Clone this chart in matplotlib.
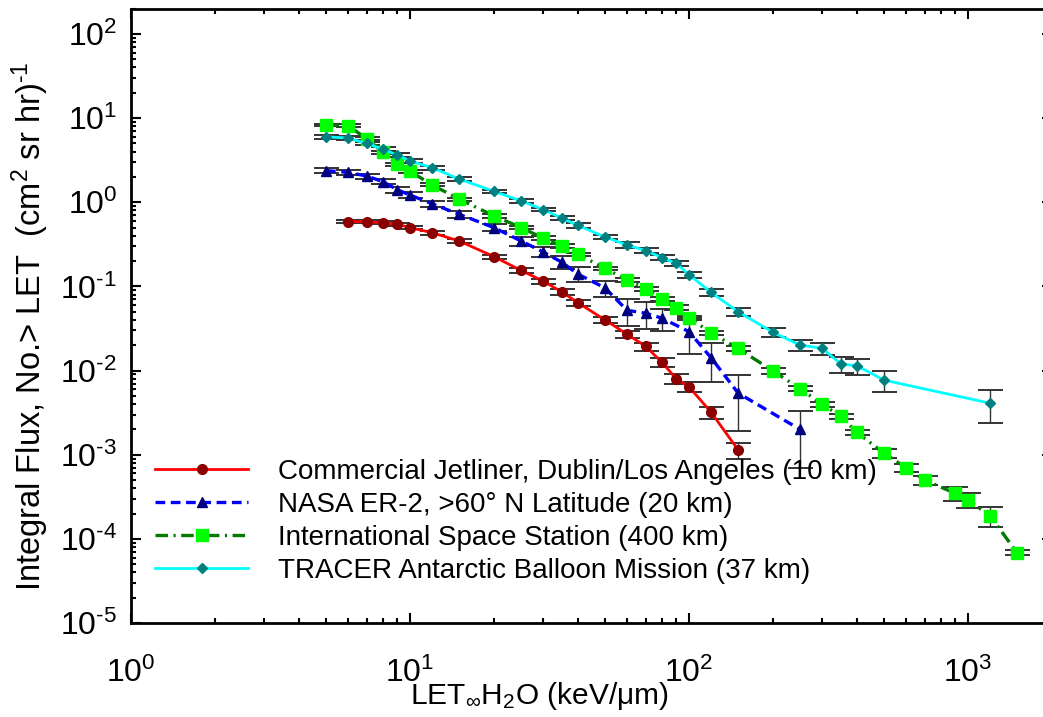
import numpy as np
import matplotlib
matplotlib.use("Agg")
import matplotlib.pyplot as plt
from matplotlib.ticker import LogLocator, NullFormatter, FuncFormatter

plt.rcParams['font.family'] = ['Liberation Sans', 'DejaVu Sans']
plt.rcParams['mathtext.fontset'] = 'custom'
plt.rcParams['mathtext.rm'] = 'Liberation Sans'
plt.rcParams['mathtext.it'] = 'Liberation Sans:italic'
plt.rcParams['mathtext.bf'] = 'Liberation Sans:bold'
plt.rcParams['lines.scale_dashes'] = False

# LET (keV/um) and integral flux
x_jet = [6, 7, 8, 9, 10, 12, 15, 20, 25, 30, 35, 40, 50, 60, 70, 80, 90, 100, 120, 150]
y_jet = [0.59, 0.59, 0.57, 0.55, 0.50, 0.435, 0.347, 0.226, 0.155, 0.116, 0.086, 0.064,
         0.040, 0.027, 0.0194, 0.0125, 0.0080, 0.0064, 0.0032, 0.00114]
rel_jet = [0.04, 0.04, 0.04, 0.04, 0.05, 0.05, 0.05, 0.06, 0.07, 0.07, 0.08, 0.08,
           0.09, 0.10, 0.11, 0.12, 0.13, 0.14, 0.16, 0.22]

x_er2 = [5, 6, 7, 8, 9, 10, 12, 15, 20, 25, 30, 35, 40, 50, 60, 70, 80, 100, 120, 150, 250]
y_er2 = [2.38, 2.27, 2.05, 1.76, 1.41, 1.22, 0.96, 0.72, 0.50, 0.347, 0.257, 0.194, 0.140,
         0.096, 0.052, 0.048, 0.042, 0.029, 0.0142, 0.0054, 0.0020]
rel_er2 = [0.07, 0.07, 0.07, 0.07, 0.08, 0.08, 0.08, 0.09, 0.10, 0.12, 0.14, 0.17, 0.20,
           0.22, 0.35, 0.35, 0.30, 0.45, 0.48, 0.65, 0.65]

x_iss = [5, 6, 7, 8, 9, 10, 12, 15, 20, 25, 30, 35, 40, 50, 60, 70, 80, 90, 100, 120, 150,
         200, 250, 300, 350, 400, 500, 600, 700, 900, 1000, 1200, 1500]
y_iss = [8.3, 8.1, 5.7, 3.93, 2.83, 2.34, 1.61, 1.09, 0.69, 0.50, 0.376, 0.302, 0.241, 0.164,
         0.119, 0.094, 0.071, 0.056, 0.0425, 0.0281, 0.0183, 0.0099, 0.0061, 0.0040, 0.00285,
         0.00184, 0.00104, 0.00070, 0.00050, 0.000347, 0.000289, 0.000188, 0.0000682]
rel_iss = [0.04, 0.04, 0.04, 0.04, 0.04, 0.04, 0.04, 0.04, 0.05, 0.05, 0.05, 0.05, 0.05, 0.05,
           0.05, 0.06, 0.06, 0.06, 0.06, 0.06, 0.06, 0.07, 0.07, 0.07, 0.08, 0.08, 0.12, 0.12,
           0.13, 0.18, 0.20, 0.27, 0.07]

x_tracer = [5, 6, 7, 8, 9, 10, 12, 15, 20, 25, 30, 35, 40, 50, 60, 70, 80, 90, 100, 120, 150,
            200, 250, 300, 350, 400, 500, 1200]
y_tracer = [6.0, 5.8, 5.0, 4.27, 3.65, 3.10, 2.58, 1.89, 1.35, 1.04, 0.82, 0.65, 0.53, 0.387,
            0.311, 0.266, 0.220, 0.188, 0.138, 0.085, 0.050, 0.0285, 0.0201, 0.0184, 0.0120,
            0.0114, 0.0077, 0.0041]
rel_tracer = [0.05, 0.05, 0.05, 0.05, 0.05, 0.05, 0.05, 0.05, 0.05, 0.05, 0.05, 0.06, 0.06,
              0.06, 0.07, 0.07, 0.07, 0.08, 0.08, 0.09, 0.10, 0.13, 0.15, 0.17, 0.22, 0.22,
              0.28, 0.42]

labels = ['Commercial Jetliner, Dublin/Los Angeles (10 km)',
          'NASA ER-2, >60\u00b0 N Latitude (20 km)',
          'International Space Station (400 km)',
          'TRACER Antarctic Balloon Mission (37 km)']

fig = plt.figure(figsize=(10.43, 7.17), dpi=100)
ax = fig.add_axes([0.1256, 0.1311, 0.883, 0.8568])

series = [
    (x_jet, y_jet, rel_jet, dict(color='#ff0000', lw=2.0, ls='-', marker='o', ms=7,
                                 mfc='#8b0000', mec='#8b0000')),
    (x_er2, y_er2, rel_er2, dict(color='#0000ff', lw=2.4, dashes=[7, 4], marker='^', ms=7,
                                 mfc='#000080', mec='#000080')),
    (x_iss, y_iss, rel_iss, dict(color='#007a00', lw=2.4, dashes=[9, 4, 1.5, 4], marker='s', ms=8,
                                 mfc='#00ff00', mec='#00ff00')),
    (x_tracer, y_tracer, rel_tracer, dict(color='#00ffff', lw=2.0, ls='-', marker='D', ms=5,
                                          mfc='#008080', mec='#008080')),
]

for (xs, ys, rel, style), lab in zip(series, labels):
    xs = np.array(xs, dtype=float)
    ys = np.array(ys, dtype=float)
    err = np.array(rel) * ys
    ax.errorbar(xs, ys, yerr=err, fmt='none', ecolor='#333333', elinewidth=1,
                capsize=9, capthick=1.4, zorder=2)
    ax.plot(xs, ys, label=lab, zorder=3, **style)

ax.set_xscale('log')
ax.set_yscale('log')
ax.set_xlim(1, 2000)
ax.set_ylim(1e-5, 200)


def pow_label(v, pos):
    e = int(round(np.log10(v)))
    return '$10^{\\text{%d}}$' % e


for axis in (ax.xaxis, ax.yaxis):
    axis.set_major_locator(LogLocator(base=10, numticks=20))
    axis.set_major_formatter(FuncFormatter(pow_label))
    axis.set_minor_locator(LogLocator(base=10, subs=np.arange(2, 10), numticks=20))
    axis.set_minor_formatter(NullFormatter())

ax.tick_params(which='both', direction='in', top=True, right=True, width=1.5)
ax.tick_params(which='major', length=7, labelsize=23)
ax.tick_params(which='minor', length=3.5)
ax.tick_params(axis='x', which='major', pad=25)
ax.tick_params(axis='y', which='major', pad=10)
for sp in ax.spines.values():
    sp.set_linewidth(2)

fig.text(410 / 1043, 13 / 717, 'LET$_{\\infty}$H$_2$O (keV/\u03bcm)', fontsize=21.5,
         ha='left', va='baseline')
fig.text(30 / 1043, 1 - 326 / 717, 'Integral Flux, No.> LET  (cm$^2$ sr hr)$^{\\text{-1}}$',
         fontsize=23.5, rotation=90, ha='center', va='center')

ax.legend(loc='upper left', bbox_to_anchor=(155 / 1043, 1 - 459 / 717),
          bbox_transform=fig.transFigure, frameon=False, fontsize=20, numpoints=1,
          handlelength=3.35, handletextpad=1.08, labelspacing=0.25, borderpad=0,
          borderaxespad=0)

fig.savefig('out.png', dpi=100)
